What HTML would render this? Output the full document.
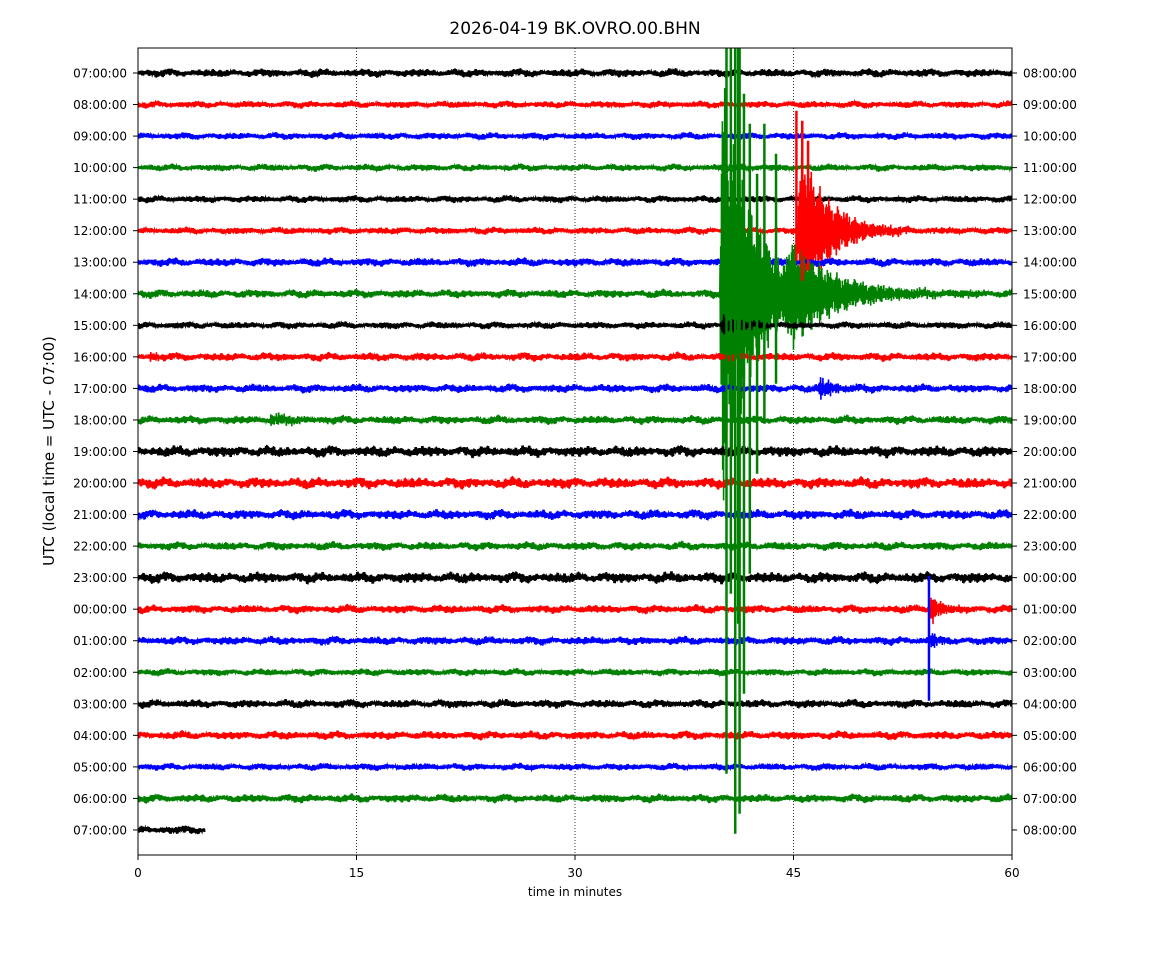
<!DOCTYPE html>
<html><head><meta charset="utf-8"><style>
body{margin:0;background:#fff;}
svg text{font-family:"DejaVu Sans","Liberation Sans",sans-serif;}
</style></head><body>
<svg id="chart" width="1150" height="950" xmlns="http://www.w3.org/2000/svg">
<rect width="1150" height="950" fill="#fff"/>
<text x="575" y="34" text-anchor="middle" font-size="17">2026-04-19 BK.OVRO.00.BHN</text>
<defs><clipPath id="pc"><rect x="138" y="48" width="874" height="807"/></clipPath></defs>
<g id="grid"></g>
<g id="traces" clip-path="url(#pc)"></g>
<rect x="138" y="48" width="874" height="807" fill="none" stroke="#000" stroke-width="1"/>
<g id="axes"></g>
<text x="575" y="896" text-anchor="middle" font-size="12">time in minutes</text>
<text transform="translate(54,451) rotate(-90)" text-anchor="middle" font-size="15">UTC (local time = UTC - 07:00)</text>
</svg>
<script>
const leftLabels=["07:00:00","08:00:00","09:00:00","10:00:00","11:00:00","12:00:00","13:00:00","14:00:00","15:00:00","16:00:00","17:00:00","18:00:00","19:00:00","20:00:00","21:00:00","22:00:00","23:00:00","00:00:00","01:00:00","02:00:00","03:00:00","04:00:00","05:00:00","06:00:00","07:00:00"];
const rightLabels=["08:00:00","09:00:00","10:00:00","11:00:00","12:00:00","13:00:00","14:00:00","15:00:00","16:00:00","17:00:00","18:00:00","19:00:00","20:00:00","21:00:00","22:00:00","23:00:00","00:00:00","01:00:00","02:00:00","03:00:00","04:00:00","05:00:00","06:00:00","07:00:00","08:00:00"];
const xTicks=[0,15,30,45,60];
const colors=["#000","#f00","#00f","#008000"];
const noiseAmp=[3,2.5,2.5,2.5,2.5,2.5,3,3,2.5,3,3,3,4,4,3.5,3,4,3,3,2.5,3,3,2.5,3,3];
const rowEnd=[60,60,60,60,60,60,60,60,60,60,60,60,60,60,60,60,60,60,60,60,60,60,60,60,4.6];
// events: row, start minute, peak amplitude (px), decay (minutes)
const evRow=[7,7,5,8,10,17,18,9,3,11];
const evStart=[39.95,44.5,45.3,40,46.7,54.3,54.3,0.8,40,9];
const evAmp=[240,45,95,12,12,18,10,8,6,6];
const evDecay=[2.2,3.5,2,1.5,1.2,0.8,0.6,0.3,1,2];
// spikes: row, minute, up (px), down (px)
const spRow=[7,7,7,7,7,7,7,7,5,5,5,18,7,7];
const spMin=[40.7,41,41.3,41.6,42,42.5,43,43.8,45.2,45.6,46,54.3,40.4,41.2];
const spUp=[246,246,246,200,170,120,170,140,120,110,90,65,246,246];
const spDown=[300,540,520,400,280,180,130,90,30,50,40,60,480,330];

const x0=138,x1=1012,y0=73,dy=31.54;
const xs=m=>x0+(x1-x0)*m/60, ys=r=>y0+r*dy;
const NS="http://www.w3.org/2000/svg";
const mk=(t,a,p)=>{const e=document.createElementNS(NS,t);for(const k in a)e.setAttribute(k,a[k]);p.appendChild(e);return e;};
const grid=document.getElementById('grid'),axes=document.getElementById('axes'),tr=document.getElementById('traces');
[15,30,45].forEach(m=>{
 const l=mk('line',{x1:xs(m),x2:xs(m),y1:48,y2:855,stroke:'#000','stroke-width':0.8,'stroke-dasharray':'1,2'},grid);
 
 
});
xTicks.forEach(m=>{
 mk('line',{x1:xs(m),x2:xs(m),y1:855,y2:860,stroke:'#000'},axes);
 const t=mk('text',{x:xs(m),y:877,'text-anchor':'middle','font-size':12},axes);t.textContent=m;
 
 
});
leftLabels.forEach((s,i)=>{
 const y=ys(i);
 mk('line',{x1:133,x2:138,y1:y,y2:y,stroke:'#000'},axes);
 mk('line',{x1:1012,x2:1017,y1:y,y2:y,stroke:'#000'},axes);
 const t=mk('text',{x:127,y:y+4.5,'text-anchor':'end','font-size':12},axes);t.textContent=s;
 
 
 const t2=mk('text',{x:1023,y:y+4.5,'font-size':12},axes);t2.textContent=rightLabels[i];
 
 
});
function wig(r,k){const a=r*1.7+k*0.37;return Math.sin(k*2.9+a)*0.6+Math.sin(k*1.37+r)*0.5+Math.sin(k*0.071+r*3)*0.4*Math.sin(k*0.013+r);}
leftLabels.forEach((s,r)=>{
 const step=0.02,pts=[];
 for(let k=0;k*step<=rowEnd[r];k++){
  const m=k*step;let v=noiseAmp[r]*wig(r,k)*(0.7+0.5*Math.abs(Math.sin(m*0.9+r)));
  for(let e=0;e<evRow.length;e++){if(evRow[e]!==r||m<evStart[e])continue;
   const d=m-evStart[e];v+=evAmp[e]*Math.exp(-d/evDecay[e])*Math.min(1,d*4+0.3)*Math.sin(k*2.3+e)*(0.8+0.2*Math.sin(k*0.21));}
  pts.push(xs(m).toFixed(1)+','+(ys(r)-v).toFixed(1));
 }
 const p=mk('polyline',{points:pts.join(' '),fill:'none',stroke:colors[r%4],'stroke-width':1.6},tr);
 
 
});
spRow.forEach((r,i)=>{
 const x=xs(spMin[i]),y=ys(r);
 const l=mk('line',{x1:x,x2:x,y1:y-spUp[i],y2:y+spDown[i],stroke:colors[r%4],'stroke-width':2.5},tr);
 
 
});
</script>
</body></html>
